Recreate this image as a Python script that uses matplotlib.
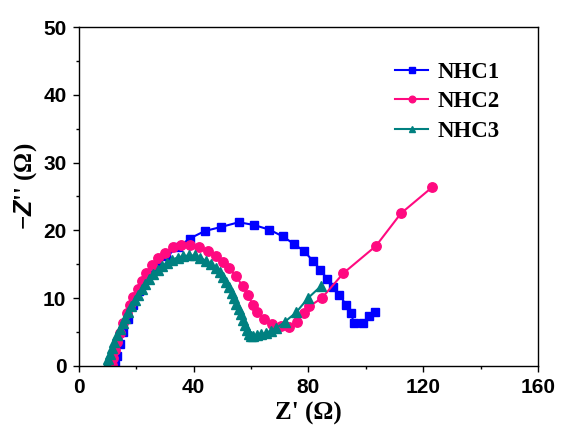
import matplotlib
matplotlib.use("Agg")
import matplotlib.pyplot as plt
from matplotlib.ticker import MultipleLocator

plt.rcParams["mathtext.fontset"] = "custom"
plt.rcParams["mathtext.it"] = "Liberation Sans:italic:bold"
plt.rcParams["mathtext.rm"] = "Liberation Serif:bold"

# NHC1
x1 = [12.5, 13.3, 14.3, 15.5, 17.0, 18.8, 21.0, 23.8, 27.0, 30.5, 34.5, 38.6,
      43.8, 49.5, 55.7, 61.0, 66.4, 71.1, 74.9, 78.6, 81.5, 84.1, 86.4, 88.5,
      90.8, 93.1, 94.9, 95.7, 98.9, 101.2, 103.2]
y1 = [0.2, 1.5, 3.2, 5.0, 7.0, 9.0, 11.0, 13.0, 14.8, 16.2, 17.5, 18.8,
      19.9, 20.5, 21.2, 20.8, 20.1, 19.1, 18.0, 16.9, 15.5, 14.2, 12.9, 11.7,
      10.5, 9.0, 7.8, 6.4, 6.4, 7.3, 7.9]

# NHC2
x2 = [11.5, 12.0, 12.5, 13.3, 14.3, 15.4, 16.6, 17.7, 19.0, 20.4, 21.8, 23.4,
      25.5, 27.6, 29.9, 32.8, 35.6, 38.6, 41.9, 45.0, 47.8, 50.3, 52.4, 54.8,
      57.0, 58.9, 60.6, 62.2, 64.5, 67.4, 70.4, 73.3, 76.0, 78.3, 80.3, 84.6,
      92.2, 103.5, 112.2, 123.2]
y2 = [0.2, 1.2, 2.4, 3.5, 4.8, 6.3, 7.8, 9.0, 10.2, 11.4, 12.5, 13.7,
      14.9, 15.9, 16.7, 17.5, 17.8, 17.8, 17.5, 16.9, 16.2, 15.3, 14.4, 13.2,
      11.8, 10.5, 9.0, 8.0, 7.0, 6.2, 5.9, 5.8, 6.5, 7.8, 8.8, 10.0,
      13.7, 17.7, 22.5, 26.4]

# NHC3
x3 = [9.6, 10.2, 10.8, 11.5, 12.3, 13.2, 14.2, 15.2, 16.2, 17.2, 18.3, 19.4,
      20.6, 21.8, 23.0, 24.4, 25.9, 27.4, 29.0, 30.7, 32.5, 34.4, 36.3, 38.3,
      40.3, 42.3, 44.2, 46.0, 47.6, 49.0, 50.2, 51.3, 52.3, 53.2, 54.1, 54.9,
      55.7, 56.4, 57.1, 57.8, 58.5, 59.2, 59.8, 60.8, 62.0, 63.5, 65.3, 67.0,
      68.8, 71.7, 75.7, 79.8, 84.4]
y3 = [0.3, 1.0, 1.8, 2.7, 3.6, 4.5, 5.4, 6.3, 7.1, 7.9, 8.8, 9.7,
      10.5, 11.3, 12.1, 12.8, 13.5, 14.1, 14.7, 15.2, 15.7, 16.0, 16.2, 16.3,
      16.3, 16.0, 15.5, 15.0, 14.4, 13.8, 13.1, 12.4, 11.6, 10.8, 10.0, 9.2,
      8.4, 7.6, 6.8, 6.0, 5.3, 4.7, 4.4, 4.4, 4.5, 4.7, 4.9, 5.2,
      5.6, 6.5, 7.9, 10.0, 11.8]

fig = plt.figure(figsize=(5.63, 4.28), dpi=100)
ax = fig.add_axes([0.1403, 0.1449, 0.8153, 0.792])

ax.plot(x1, y1, "-s", color="#0000FF", lw=1.5, ms=6.3, label="NHC1")
ax.plot(x2, y2, "-o", color="#FF0A80", lw=1.5, ms=6.8, label="NHC2")
ax.plot(x3, y3, "-^", color="#008080", lw=1.5, ms=6.8, label="NHC3")

ax.set_xlim(0, 160)
ax.set_ylim(0, 50)
ax.xaxis.set_major_locator(MultipleLocator(40))
ax.xaxis.set_minor_locator(MultipleLocator(20))
ax.yaxis.set_major_locator(MultipleLocator(10))
ax.yaxis.set_minor_locator(MultipleLocator(5))
ax.tick_params(which="major", direction="out", length=4, width=1, pad=5)
ax.tick_params(which="minor", direction="out", length=2.5, width=1)
for lab in ax.get_xticklabels() + ax.get_yticklabels():
    lab.set_fontfamily("Liberation Sans")
    lab.set_fontweight("bold")
    lab.set_fontsize(15)
for sp in ax.spines.values():
    sp.set_linewidth(1)

ax.set_xlabel("Z' (Ω)", fontfamily="Liberation Serif", fontweight="bold",
              fontsize=18)
ax.set_ylabel("−$Z$'' (Ω)", fontfamily="Liberation Serif", fontweight="bold",
              fontsize=18)
ax.xaxis.set_label_coords(0.5, -0.105)
ax.yaxis.set_label_coords(-0.088, 0.53)

leg = ax.legend(loc="upper left", bbox_to_anchor=(0.669, 0.924), frameon=False,
                prop={"family": "Liberation Serif", "weight": "bold", "size": 16.5},
                handlelength=1.45, handletextpad=0.4, labelspacing=0.36,
                markerscale=0.7, numpoints=1, borderaxespad=0)

fig.savefig("out.png", dpi=100)
